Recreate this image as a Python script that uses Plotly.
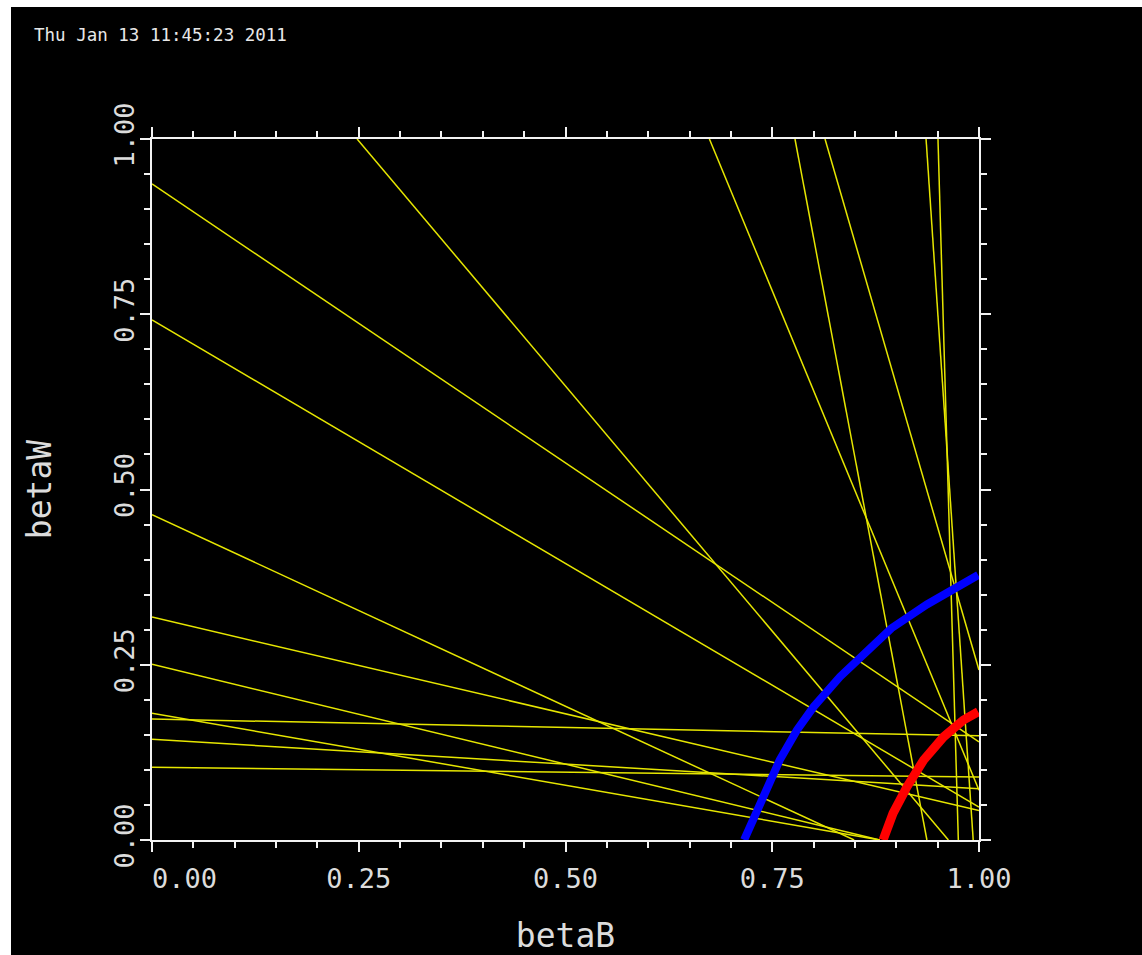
import plotly.graph_objects as go

# ---- tomography lines (betaB, betaW) start / end ----
line_bB0 = [0.0, 0.0, 0.0, 0.0, 0.0, 0.0, 0.0, 0.0, 0.0, 0.248, 0.674, 0.7775, 0.8138, 0.936, 0.9504]
line_bW0 = [0.936, 0.742, 0.464, 0.318, 0.2506, 0.181, 0.1726, 0.1436, 0.1037, 1.0, 1.0, 1.0, 1.0, 1.0, 1.0]
line_bB1 = [1.0, 1.0, 0.849, 1.0, 0.88, 0.88, 1.0, 1.0, 1.0, 0.963, 1.0, 0.937, 1.0, 0.993, 0.975]
line_bW1 = [0.14, 0.047, 0.0, 0.042, 0.0, 0.0, 0.1486, 0.073, 0.09, 0.0, 0.071, 0.0, 0.2425, 0.0, 0.0]

# ---- blue contour ----
blue_bB = [0.716, 0.727, 0.743, 0.759, 0.780, 0.800, 0.832, 0.864, 0.894, 0.937, 0.969, 0.999]
blue_bW = [0.0, 0.0285, 0.0713, 0.114, 0.157, 0.190, 0.233, 0.268, 0.302, 0.336, 0.359, 0.378]

# ---- red contour ----
red_bB = [0.884, 0.896, 0.913, 0.933, 0.957, 0.981, 0.999]
red_bW = [0.0, 0.038, 0.076, 0.114, 0.147, 0.171, 0.183]

tick_vals = [0.0, 0.25, 0.5, 0.75, 1.0]
x_tick_text = ["\u00a0\u00a0\u00a0\u00a00.00", "0.25", "0.50", "0.75", "1.00"]
y_tick_text = ["0.00", "0.25", "0.50", "0.75", "1.00"]
stamp = "Thu Jan 13 11:45:23 2011"

xs, ys = [], []
for a, b, c, d in zip(line_bB0, line_bW0, line_bB1, line_bW1):
    xs += [a, c, None]
    ys += [b, d, None]

fig = go.Figure()
fig.add_trace(go.Scatter(x=xs, y=ys, mode="lines",
                         line=dict(color="#e6e600", width=1.5),
                         hoverinfo="skip", showlegend=False))
fig.add_trace(go.Scatter(x=blue_bB, y=blue_bW, mode="lines",
                         line=dict(color="#0000ff", width=8),
                         showlegend=False))
fig.add_trace(go.Scatter(x=red_bB, y=red_bW, mode="lines",
                         line=dict(color="#ff0000", width=9),
                         showlegend=False))

tick_font = dict(family="DejaVu Sans Mono", size=27, color="#dcdcdc")
title_font = dict(family="DejaVu Sans Mono", size=33, color="#dcdcdc")

axis_common = dict(
    range=[0, 1], showgrid=False, zeroline=False, automargin=False,
    showline=True, linecolor="#f2f2f2", linewidth=2, mirror="allticks",
    ticks="outside", ticklen=10, tickwidth=2, tickcolor="#f2f2f2",
    tickvals=tick_vals, tickfont=tick_font,
    minor=dict(dtick=0.05, ticks="outside", ticklen=6, tickwidth=2, tickcolor="#f2f2f2", showgrid=False),
)

fig.update_xaxes(**axis_common, ticktext=x_tick_text, ticklabelstandoff=4,
                 title=dict(text="betaB", font=title_font, standoff=50))
fig.update_yaxes(**axis_common, ticktext=y_tick_text, tickangle=-90, ticklabelstandoff=-5,
                 title=dict(text="betaW", font=title_font, standoff=48))

L, R, T, B = 152, 163, 139, 115
W, H = 1142, 955
pw, ph = W - L - R, H - T - B

def px_x(p):
    return (p - L) / pw

def px_y(p):
    return (H - B - p) / ph

fig.update_layout(
    width=W, height=H,
    margin=dict(l=L, r=R, t=T, b=B, pad=0, autoexpand=False),
    paper_bgcolor="black", plot_bgcolor="black",
    showlegend=False,
    shapes=[
        dict(type="rect", xref="paper", yref="paper", x0=px_x(-5), x1=px_x(11),
             y0=px_y(W), y1=px_y(-5), fillcolor="white", line_width=0, layer="below"),
        dict(type="rect", xref="paper", yref="paper", x0=px_x(-5), x1=px_x(W + 5),
             y0=px_y(7), y1=px_y(-5), fillcolor="white", line_width=0, layer="below"),
    ],
    annotations=[
        dict(text=stamp, xref="paper", yref="paper", x=px_x(32), y=px_y(35),
             xanchor="left", yanchor="middle", showarrow=False,
             font=dict(family="DejaVu Sans Mono", size=17.5, color="#e8e8e8")),
    ],
)

fig.write_html("out.html")
